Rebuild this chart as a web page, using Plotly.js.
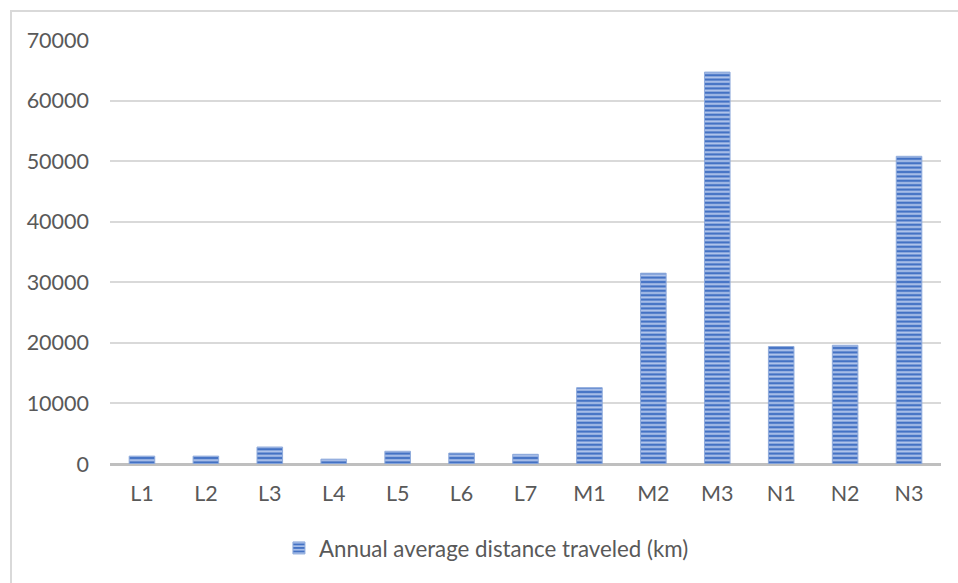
<!DOCTYPE html>
<html>
<head>
<meta charset="utf-8">
<script src="https://cdn.plot.ly/plotly-3.0.1.min.js"></script>
<style>
  html, body { margin: 0; padding: 0; background: #ffffff; }
  #wrap { position: relative; width: 958px; height: 583px; overflow: hidden; }
  #chart { position: absolute; left: 0; top: 0; width: 958px; height: 583px; }
  #frame { position: absolute; left: 10px; top: 10px; width: 960px; height: 600px;
           border-left: 2px solid #d9d9d9; border-top: 2px solid #d9d9d9; pointer-events: none; }
</style>
</head>
<body>
<div id="wrap">
  <div id="chart"></div>
  <div id="frame"></div>
</div>
<script>
// Vehicle categories and their yearly mileage
const categories = ["L1", "L2", "L3", "L4", "L5", "L6", "L7", "M1", "M2", "M3", "N1", "N2", "N3"];
const annualDistanceKm = [1300, 1300, 2800, 800, 2100, 1800, 1600, 12600, 31500, 64700, 19400, 19600, 50800];
const yTickValues = [0, 10000, 20000, 30000, 40000, 50000, 60000, 70000];
const seriesName = "Annual average distance traveled (km)";

const tickFont = { family: "Lato, 'Open Sans', sans-serif", size: 21.5, color: "#595959" };
const legendFont = { family: "Lato, 'Open Sans', sans-serif", size: 22.3, color: "#595959" };

const trace = {
  type: "bar",
  x: categories,
  y: annualDistanceKm,
  name: seriesName,
  width: 0.4,
  marker: {
    color: "#4472c4",
    line: { color: "#8eaadb", width: 1 },
    pattern: { shape: "-", bgcolor: "#4472c4", fgcolor: "#b4c7ec", size: 4.4, solidity: 0.45 }
  },
  hoverinfo: "x+y"
};

const layout = {
  width: 958,
  height: 583,
  paper_bgcolor: "#ffffff",
  plot_bgcolor: "#ffffff",
  margin: { l: 110, r: 17, t: 40, b: 119, pad: 0 },
  showlegend: true,
  legend: {
    orientation: "h",
    x: 0.453, xanchor: "center",
    y: -0.198, yanchor: "middle",
    font: legendFont,
    itemwidth: 30
  },
  xaxis: {
    type: "category",
    showgrid: false,
    showline: false,
    ticks: "",
    tickfont: tickFont,
    ticklabelstandoff: 14,
    fixedrange: true
  },
  yaxis: {
    range: [0, 70000],
    tickvals: yTickValues,
    ticktext: yTickValues.map(String),
    showgrid: true,
    gridcolor: "#d9d9d9",
    gridwidth: 2,
    zeroline: true,
    zerolinecolor: "#bfbfbf",
    zerolinewidth: 3,
    showline: false,
    ticks: "",
    tickfont: tickFont,
    ticklabelstandoff: 20,
    fixedrange: true
  }
};

Plotly.newPlot("chart", [trace], layout, { displayModeBar: false, staticPlot: true });
</script>
</body>
</html>
